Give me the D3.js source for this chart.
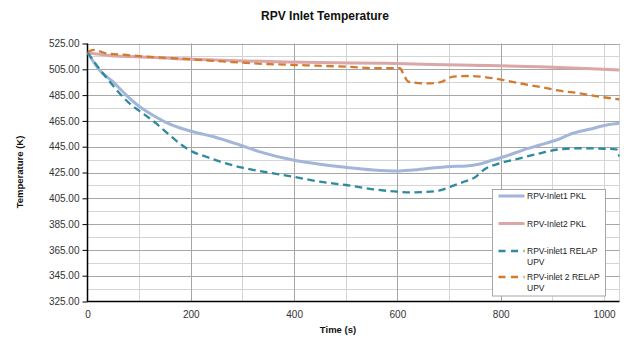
<!DOCTYPE html>
<html>
<head>
<meta charset="utf-8">
<script src="https://cdn.jsdelivr.net/npm/d3@7"></script>
<style>
  body { margin: 0; background: #fff; }
  svg { display: block; font-family: "Liberation Sans", Arial, sans-serif; }
</style>
</head>
<body>
<svg id="chart" width="626" height="338"></svg>
<script>
// series data (time in s, temperature in K)
const pkl1Time = [0, 23, 49, 75, 101, 126, 152, 178, 204, 246, 295, 334, 398, 450, 500, 553, 600, 630, 663, 695, 734, 760, 785, 811, 843, 876, 908, 940, 972, 1005, 1030]
const pkl1Temp = [518, 504.5, 495.4, 485, 476, 469.6, 463.9, 459.7, 456.6, 452.5, 446.3, 441, 434.7, 431.4, 429, 427, 426.2, 427, 428.3, 429.5, 430, 431.6, 434.7, 437.8, 442.4, 446.3, 450.2, 455.4, 458.5, 461.8, 463.1]

const pkl2Time = [0, 17, 55, 94, 191, 288, 384, 481, 578, 721, 876, 953, 1030]
const pkl2Temp = [517.4, 516.9, 515.3, 514.8, 513, 511.7, 510.7, 510.1, 509.6, 508.3, 507, 505.8, 504.5]

const relap1Time = [0, 20, 43, 62, 85, 107, 133, 155, 178, 204, 230, 257, 300, 347, 398, 450, 500, 553, 600, 624, 650, 680, 710, 730, 747, 772, 798, 837, 876, 914, 953, 991, 1024, 1030]
const relap1Temp = [518, 507, 495.4, 486.4, 477.3, 470.9, 463, 455.4, 447.6, 441, 437.2, 433.4, 428.7, 425.2, 421.7, 417.9, 415.3, 412, 410.1, 409.6, 409.8, 411, 415, 418, 420.5, 428.3, 432.1, 436, 439.9, 443, 443.8, 443.5, 443, 437.3]

const relap2Time = [0, 13, 36, 75, 114, 191, 268, 346, 423, 500, 565, 605, 611, 621, 656, 682, 708, 740, 772, 798, 837, 882, 914, 953, 991, 1030]
const relap2Temp = [518.5, 520, 517.4, 516.1, 514.8, 513, 510.9, 509.1, 508.1, 507, 505.8, 505.8, 501.9, 495.4, 494.1, 494.9, 499.3, 499.8, 498.8, 497.2, 494.1, 491, 488.4, 486.4, 483.8, 481.7]

const seriesNames = ['RPV-Inlet1 PKL', 'RPV-Inlet2 PKL', 'RPV-inlet1 RELAP UPV', 'RPV-inlet 2 RELAP UPV']
const xTicks = [0, 200, 400, 600, 800, 1000]
const yTicks = [325, 345, 365, 385, 405, 425, 445, 465, 485, 505, 525]

const series = [
  { name: seriesNames[0], t: pkl1Time, v: pkl1Temp, color: '#a3b5d9', width: 3, dash: null },
  { name: seriesNames[1], t: pkl2Time, v: pkl2Temp, color: '#dba6a6', width: 3, dash: null },
  { name: seriesNames[2], t: relap1Time, v: relap1Temp, color: '#2e8a9d', width: 2.3, dash: '7.5,4.5' },
  { name: seriesNames[3], t: relap2Time, v: relap2Temp, color: '#d37a2f', width: 2.3, dash: '7.5,4.5' }
]

const plot = { left: 87.5, right: 619.5, top: 43.5, bottom: 301.5 }

const x = d3.scaleLinear().domain([0, 1030]).range([plot.left, plot.right])
const y = d3.scaleLinear().domain([325, 525]).range([plot.bottom, plot.top])

const svg = d3.select('#chart')

// minor grid
const grid = svg.append('g')
grid.selectAll('.hminor')
  .data(d3.range(335, 525, 20))
  .enter().append('line')
  .attr('x1', plot.left).attr('x2', plot.right)
  .attr('y1', d => Math.round(y(d)) + 0.5).attr('y2', d => Math.round(y(d)) + 0.5)
  .attr('stroke', '#d4d4d4')
grid.selectAll('.vminor')
  .data([100, 300, 500, 700, 900, 1000])
  .enter().append('line')
  .attr('x1', d => Math.round(x(d)) + 0.5).attr('x2', d => Math.round(x(d)) + 0.5)
  .attr('y1', plot.top).attr('y2', plot.bottom)
  .attr('stroke', '#d4d4d4')
grid.append('line')
  .attr('x1', plot.right).attr('x2', plot.right)
  .attr('y1', plot.top).attr('y2', plot.bottom)
  .attr('stroke', '#d4d4d4')

// major grid
grid.selectAll('.hmajor')
  .data(yTicks.slice(1))
  .enter().append('line')
  .attr('x1', plot.left).attr('x2', plot.right)
  .attr('y1', d => Math.round(y(d)) + 0.5).attr('y2', d => Math.round(y(d)) + 0.5)
  .attr('stroke', '#a6a6a6')
grid.selectAll('.vmajor')
  .data([200, 400, 600, 800])
  .enter().append('line')
  .attr('x1', d => Math.round(x(d)) + 0.5).attr('x2', d => Math.round(x(d)) + 0.5)
  .attr('y1', plot.top).attr('y2', plot.bottom)
  .attr('stroke', '#a6a6a6')

// axes
const yAxis = d3.axisLeft(y).tickValues(yTicks).tickFormat(d3.format('.2f')).tickSize(5).tickPadding(3)
const yg = svg.append('g').attr('transform', `translate(${plot.left},0)`).call(yAxis)
const xAxis = d3.axisBottom(x).tickValues(xTicks).tickFormat(d3.format('d')).tickSize(0).tickPadding(9)
const xg = svg.append('g').attr('transform', `translate(0,${plot.bottom})`).call(xAxis)
for (const g of [xg, yg]) {
  g.select('.domain').remove()
  g.selectAll('.tick line').attr('stroke', '#000')
  g.selectAll('text').attr('fill', '#333').style('font-size', '10px')
}
svg.append('line')
  .attr('x1', plot.left).attr('x2', plot.left)
  .attr('y1', plot.top).attr('y2', plot.bottom + 0.5)
  .attr('stroke', '#000').attr('stroke-width', 1.5)
svg.append('line')
  .attr('x1', plot.left).attr('x2', plot.right)
  .attr('y1', plot.bottom).attr('y2', plot.bottom)
  .attr('stroke', '#000').attr('stroke-width', 1.5)

// lines
const line = d3.line().curve(d3.curveMonotoneX)
svg.append('clipPath').attr('id', 'clip').append('rect')
  .attr('x', plot.left).attr('y', plot.top)
  .attr('width', plot.right - plot.left).attr('height', plot.bottom - plot.top)
svg.append('g').attr('clip-path', 'url(#clip)')
  .selectAll('path')
  .data(series)
  .enter().append('path')
  .attr('d', s => line(s.t.map((t, i) => [x(t), y(s.v[i])])))
  .attr('fill', 'none')
  .attr('stroke', s => s.color)
  .attr('stroke-width', s => s.width)
  .attr('stroke-dasharray', s => s.dash)

// titles
svg.append('text')
  .attr('x', 325).attr('y', 20)
  .attr('text-anchor', 'middle')
  .style('font-size', '12px').style('font-weight', 'bold')
  .attr('fill', '#111')
  .text('RPV Inlet Temperature')
svg.append('text')
  .attr('x', 338).attr('y', 333)
  .attr('text-anchor', 'middle')
  .style('font-size', '9.5px').style('font-weight', 'bold')
  .attr('fill', '#111')
  .text('Time (s)')
svg.append('text')
  .attr('transform', 'translate(23,172) rotate(-90)')
  .attr('text-anchor', 'middle')
  .style('font-size', '9.5px').style('font-weight', 'bold')
  .attr('fill', '#111')
  .text('Temperature (K)')

// legend
const legend = svg.append('g')
legend.append('rect')
  .attr('x', 492.5).attr('y', 189.5).attr('width', 113).attr('height', 106.5)
  .attr('fill', '#fff').attr('stroke', '#a6a6a6')
const rowY = [196, 223.5, 251, 277]
const items = legend.selectAll('.item')
  .data(series)
  .enter().append('g')
  .attr('transform', (d, i) => `translate(0,${rowY[i]})`)
items.append('line')
  .attr('x1', 498.5).attr('x2', 524.5)
  .attr('stroke', d => d.color)
  .attr('stroke-width', d => d.width)
  .attr('stroke-dasharray', d => d.dash ? '7,5.5' : null)
items.each(function (d) {
  const words = d.name.split(' RELAP ')
  const lines = words.length > 1 ? [words[0] + ' RELAP', words[1]] : [d.name]
  d3.select(this).selectAll('text')
    .data(lines)
    .enter().append('text')
    .attr('x', 527).attr('y', (l, j) => 3 + j * 10.5)
    .style('font-size', '8.5px')
    .attr('fill', '#222')
    .text(l => l)
})
</script>
</body>
</html>
